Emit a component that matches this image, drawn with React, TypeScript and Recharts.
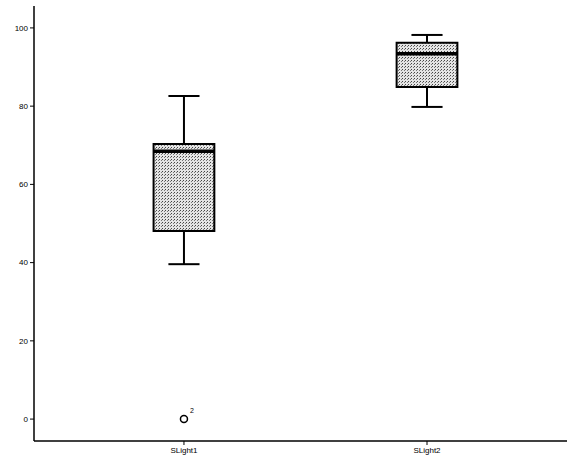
import React from 'react';
import {
  ComposedChart,
  XAxis,
  YAxis,
  Scatter,
  ReferenceArea,
  ReferenceLine,
  LabelList,
} from 'recharts';

const categories = ['SLight1', 'SLight2'];
const whiskerLow = [39.6, 79.8];
const q1 = [48.1, 84.9];
const median = [68.5, 93.4];
const q3 = [70.3, 96.2];
const whiskerHigh = [82.6, 98.2];
const outlierCategory = [0];
const outlierValue = [0];
const outlierCase = ['2'];
const yTicks = [0, 20, 40, 60, 80, 100];

const BOX_HALF = 0.125;
const CAP_HALF = 0.064;
const X_DOMAIN: [number, number] = [0.383, 2.576];
const Y_DOMAIN: [number, number] = [-5.6, 105.6];

const outlierData = outlierCategory.map((c, i) => ({
  x: c + 1,
  y: outlierValue[i],
  label: outlierCase[i],
}));

const FONT = '"Liberation Sans", Arial, sans-serif';

const OutlierShape = (props: any) => {
  const { cx, cy } = props;
  return <circle cx={cx} cy={cy} r={3.5} fill="#fff" stroke="#000" strokeWidth={1.5} />;
};

const CaseLabel = (props: any) => {
  const { x, y, width, value } = props;
  const cx = x + (width || 0) / 2;
  return (
    <text x={cx + 6} y={y - 2} fontSize={7} fontFamily={FONT} fill="#000">
      {value}
    </text>
  );
};

export default function App() {
  return (
    <div style={{ position: 'absolute', left: 0, top: 0, background: '#fff' }}>
      <ComposedChart
        width={567}
        height={464}
        margin={{ top: 6, right: 0, bottom: 0, left: 0 }}
      >
        <defs>
          <pattern id="stipple" width="3" height="3" patternUnits="userSpaceOnUse">
            <rect x="0" y="0" width="3" height="3" fill="#e4e4e4" />
            <rect x="0" y="0" width="1" height="1" fill="#444" />
            <rect x="2" y="1" width="1" height="1" fill="#777" />
          </pattern>
        </defs>
        <XAxis
          type="number"
          dataKey="x"
          domain={X_DOMAIN}
          ticks={[1, 2]}
          allowDataOverflow
          tickFormatter={(v: number) => categories[v - 1] ?? ''}
          height={23}
          tickSize={4}
          tickMargin={2}
          axisLine={{ stroke: '#000', strokeWidth: 1.5 }}
          tickLine={{ stroke: '#000' }}
          tick={{ fontSize: 8, fill: '#000', fontFamily: FONT }}
        />
        <XAxis
          xAxisId="top"
          orientation="top"
          type="number"
          domain={X_DOMAIN}
          allowDataOverflow
          height={0}
          tick={false}
          tickLine={false}
          axisLine={{ stroke: '#000', strokeWidth: 1.5 }}
        />
        <YAxis
          type="number"
          dataKey="y"
          domain={Y_DOMAIN}
          ticks={yTicks}
          allowDataOverflow
          width={34}
          tickSize={4}
          tickMargin={2}
          axisLine={{ stroke: '#000', strokeWidth: 1.5 }}
          tickLine={{ stroke: '#000' }}
          tick={{ fontSize: 8, fill: '#000', fontFamily: FONT }}
        />
        {categories.map((c, i) => (
          <ReferenceLine
            key={'wl' + c}
            segment={[{ x: i + 1, y: whiskerLow[i] }, { x: i + 1, y: q1[i] }]}
            stroke="#000"
            strokeWidth={2}
            ifOverflow="visible"
          />
        ))}
        {categories.map((c, i) => (
          <ReferenceLine
            key={'wh' + c}
            segment={[{ x: i + 1, y: q3[i] }, { x: i + 1, y: whiskerHigh[i] }]}
            stroke="#000"
            strokeWidth={2}
            ifOverflow="visible"
          />
        ))}
        {categories.map((c, i) => (
          <ReferenceLine
            key={'cl' + c}
            segment={[
              { x: i + 1 - CAP_HALF, y: whiskerLow[i] },
              { x: i + 1 + CAP_HALF, y: whiskerLow[i] },
            ]}
            stroke="#000"
            strokeWidth={2}
            ifOverflow="visible"
          />
        ))}
        {categories.map((c, i) => (
          <ReferenceLine
            key={'ch' + c}
            segment={[
              { x: i + 1 - CAP_HALF, y: whiskerHigh[i] },
              { x: i + 1 + CAP_HALF, y: whiskerHigh[i] },
            ]}
            stroke="#000"
            strokeWidth={2}
            ifOverflow="visible"
          />
        ))}
        {categories.map((c, i) => (
          <ReferenceArea
            key={'box' + c}
            x1={i + 1 - BOX_HALF}
            x2={i + 1 + BOX_HALF}
            y1={q1[i]}
            y2={q3[i]}
            fill="url(#stipple)"
            fillOpacity={1}
            stroke="#000"
            strokeWidth={2}
            ifOverflow="visible"
          />
        ))}
        {categories.map((c, i) => (
          <ReferenceLine
            key={'med' + c}
            segment={[
              { x: i + 1 - BOX_HALF, y: median[i] },
              { x: i + 1 + BOX_HALF, y: median[i] },
            ]}
            stroke="#000"
            strokeWidth={3.5}
            ifOverflow="visible"
          />
        ))}
        <Scatter
          data={outlierData}
          dataKey="y"
          shape={<OutlierShape />}
          isAnimationActive={false}
        >
          <LabelList dataKey="label" content={<CaseLabel />} />
        </Scatter>
      </ComposedChart>
    </div>
  );
}
